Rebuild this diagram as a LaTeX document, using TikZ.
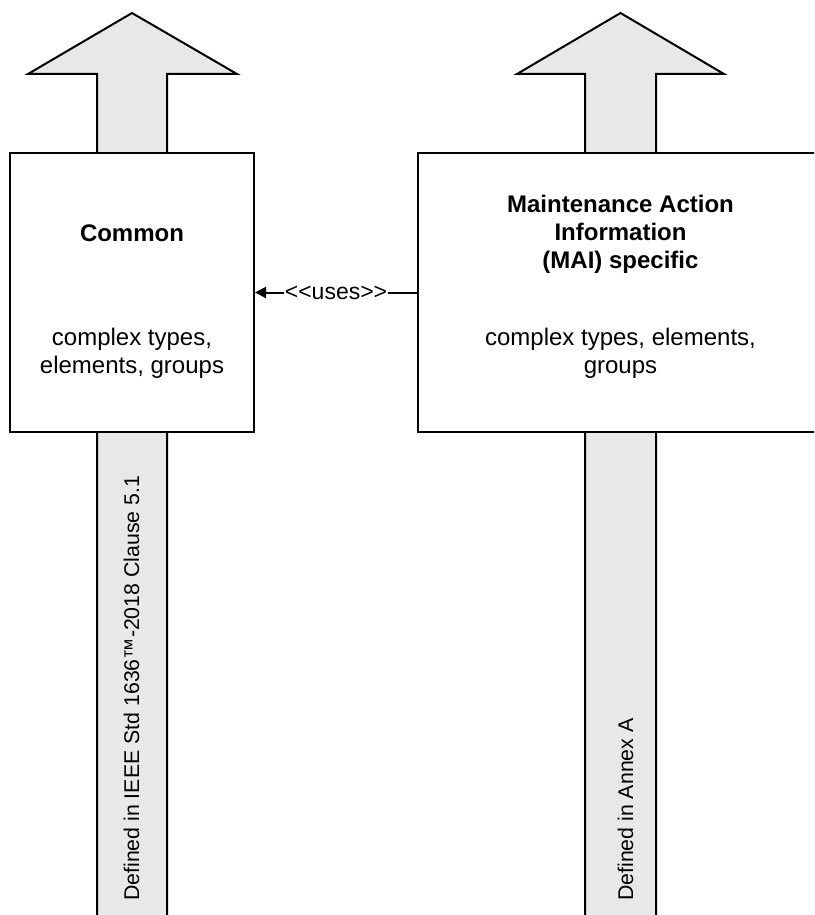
\documentclass[tikz,border=0pt]{standalone}
\usepackage{fontspec}
\setmainfont{Liberation Sans}
\usetikzlibrary{arrows.meta}
\definecolor{arrowgray}{RGB}{232,232,232}
\begin{document}
\begin{tikzpicture}[x=1pt,y=-1pt,
  box/.style={draw, line width=2pt, fill=white, inner sep=0pt},
  bigarrow/.style={draw, line width=2pt, fill=arrowgray, line join=miter},
  boxtext/.style={font=\fontsize{24}{28}\selectfont, anchor=base, inner sep=0pt},
  boldtext/.style={font=\fontsize{24}{28}\selectfont\bfseries, anchor=base, inner sep=0pt},
  sidetext/.style={font=\fontsize{21.3}{25}\selectfont, rotate=90, anchor=base west, inner sep=0pt},
  useslabel/.style={fill=white, font=\fontsize{23}{27}\selectfont, inner xsep=1pt, inner ysep=2pt},
  connector/.style={line width=2pt, -{Triangle[length=11pt,width=11pt]}}
]
\useasboundingbox (0,0) rectangle (814,915);
\clip (0,0) rectangle (814,915);

% big arrows
\draw[bigarrow] (132,13) -- (237,74) -- (167,74) -- (167,930) -- (97,930) -- (97,74) -- (28,74) -- cycle;
\draw[bigarrow] (620.5,13) -- (724,74) -- (656,74) -- (656,930) -- (585,930) -- (585,74) -- (517,74) -- cycle;

% boxes
\node[box, minimum width=244pt, minimum height=279pt] (common) at (132,292.5) {};
\node[box, minimum width=412pt, minimum height=279pt] (mai) at (624,292.5) {};

% box texts
\node[boldtext] (commontitle) at (132,241.5) {Common};
\node[boxtext] (commonl1) at (132,345) {complex types,};
\node[boxtext] (commonl2) at (132,373.5) {elements, groups};

\node[boldtext] (mait1) at (620.5,212) {Maintenance Action};
\node[boldtext] (mait2) at (620.5,240) {Information};
\node[boldtext] (mait3) at (620.5,268) {(MAI) specific};
\node[boxtext] (mail1) at (620.5,345) {complex types, elements,};
\node[boxtext] (mail2) at (620.5,373.5) {groups};

% side texts
\node[sidetext] (leftdef) at (139,901) {Defined in IEEE Std 1636™-2018 Clause 5.1};
\node[sidetext] (rightdef) at (633,901) {Defined in Annex A};

% uses connector
\draw[connector] (mai.west) -- node[useslabel] (uses) {<\kern0pt<uses>\kern0pt>} (common.east);
\end{tikzpicture}
\end{document}
